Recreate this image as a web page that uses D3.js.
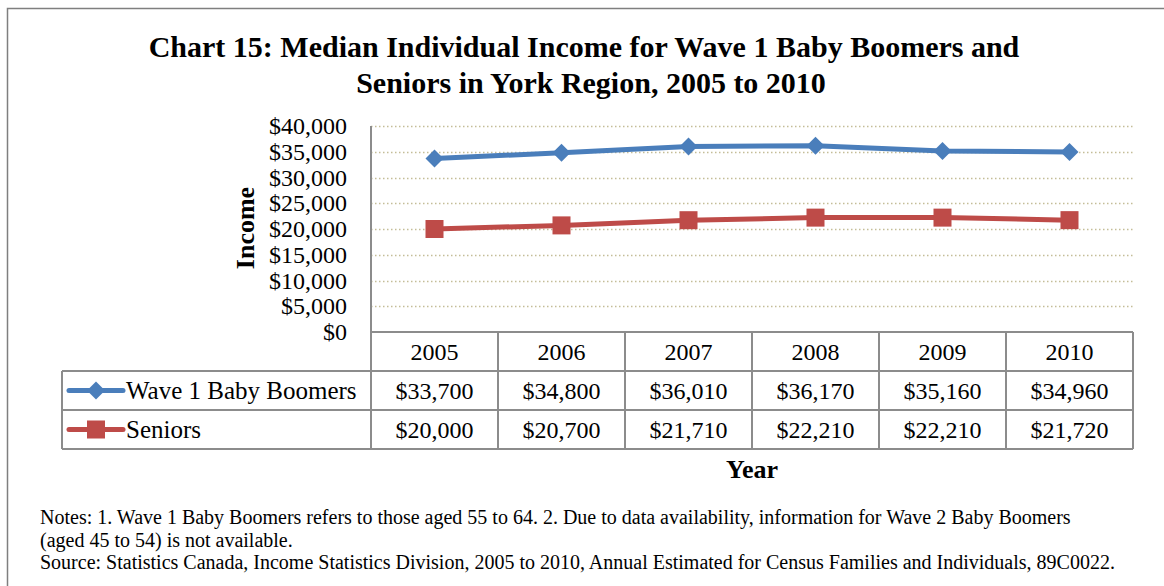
<!DOCTYPE html>
<html>
<head>
<meta charset="utf-8">
<script src="https://cdn.jsdelivr.net/npm/d3@7"></script>
<style>
    body { margin: 0; background: #fff; }
    svg { display: block; font-family: "Liberation Serif", "DejaVu Serif", serif; }
</style>
</head>
<body>
<div id="chart"></div>
<script>
//Datos del gráfico
const years = ['2005', '2006', '2007', '2008', '2009', '2010'];
const boomers = [33700, 34800, 36010, 36170, 35160, 34960];
const seniors = [20000, 20700, 21710, 22210, 22210, 21720];
const seriesNames = ['Wave 1 Baby Boomers', 'Seniors'];
const yTicks = [0, 5000, 10000, 15000, 20000, 25000, 30000, 35000, 40000];

const COLOR_BLUE = '#4A7EBB',
    COLOR_RED = '#BE4B48',
    COLOR_GRID = '#C4BD97',
    COLOR_BORDER = '#8C8C8C';

let width = 1164, height = 586;
let margin = {top: 126, right: 31, bottom: 254, left: 371};

let svg = d3.select('#chart')
    .append('svg')
    .attr('width', width)
    .attr('height', height);

//Marco exterior
svg.append('rect')
    .attr('x', 7.5).attr('y', 8.5)
    .attr('width', 1200).attr('height', 700)
    .attr('fill', 'none')
    .attr('stroke', '#7F7F7F')
    .attr('stroke-width', 1.5);

//Título
let title = svg.append('text')
    .attr('text-anchor', 'middle')
    .attr('font-weight', 700)
    .attr('font-size', '30px')
    .attr('fill', '#000');
title.append('tspan').attr('x', 584).attr('y', 57).text('Chart 15: Median Individual Income for Wave 1 Baby Boomers and');
title.append('tspan').attr('x', 591).attr('y', 93).text('Seniors in York Region, 2005 to 2010');

let x = d3.scaleBand()
    .domain(years)
    .range([margin.left, width - margin.right]);

let y = d3.scaleLinear()
    .domain([0, 40000])
    .range([height - margin.bottom, margin.top]);

//Rejilla
svg.append('g')
    .selectAll('line')
    .data(yTicks.filter(d => d > 0))
    .enter()
    .append('line')
    .attr('x1', margin.left)
    .attr('x2', width - margin.right)
    .attr('y1', d => Math.round(y(d)) + 0.5)
    .attr('y2', d => Math.round(y(d)) + 0.5)
    .attr('stroke', COLOR_GRID)
    .attr('stroke-width', 1.5)
    .attr('stroke-dasharray', '1.5,2.5');

//Eje Y
let yAxis = function(g) {
    g.call(d3.axisLeft(y).tickValues(yTicks).tickSize(0).tickPadding(24).tickFormat(d => '$' + d3.format(',')(d)));
    g.call(g => g.select('.domain').remove());
    g.selectAll('text')
        .attr('font-family', '"Liberation Serif", serif')
        .attr('font-size', '24px')
        .attr('fill', '#000');
};
svg.append('g')
    .attr('transform', 'translate(' + margin.left + ',0)')
    .call(yAxis);

svg.append('line')
    .attr('x1', margin.left).attr('x2', margin.left)
    .attr('y1', margin.top).attr('y2', y(0))
    .attr('stroke', COLOR_BORDER).attr('stroke-width', 2);

svg.append('text')
    .attr('transform', 'translate(254,' + (y(20000) - 1) + ') rotate(-90)')
    .attr('text-anchor', 'middle')
    .attr('font-weight', 700)
    .attr('font-size', '26px')
    .text('Income');

//Líneas y marcadores
let series = [
    {name: seriesNames[0], values: boomers, color: COLOR_BLUE, shape: 'diamond'},
    {name: seriesNames[1], values: seniors, color: COLOR_RED, shape: 'square'}
];

let line = d3.line()
    .x((d, i) => x(years[i]) + x.bandwidth() / 2)
    .y(d => y(d));

function marker(g, shape, color) {
    if (shape == 'diamond') {
        g.append('path').attr('d', 'M0,-9L9,0L0,9L-9,0Z').attr('fill', color);
    } else {
        g.append('rect').attr('x', -9).attr('y', -9).attr('width', 18).attr('height', 18).attr('fill', color);
    }
}

series.forEach(function(s) {
    svg.append('path')
        .datum(s.values)
        .attr('d', line)
        .attr('fill', 'none')
        .attr('stroke', s.color)
        .attr('stroke-width', 5)
        .attr('stroke-linejoin', 'round');

    s.values.forEach(function(v, i) {
        let g = svg.append('g')
            .attr('transform', 'translate(' + (x(years[i]) + x.bandwidth() / 2) + ',' + y(v) + ')');
        marker(g, s.shape, s.color);
    });
});

//Tabla de datos
let rowTop = [y(0), 371, 410, 449];
let legendLeft = 62;
let tab = svg.append('g')
    .attr('stroke', COLOR_BORDER)
    .attr('stroke-width', 2)
    .attr('fill', 'none');

//horizontales
tab.append('line').attr('x1', margin.left).attr('x2', width - margin.right).attr('y1', rowTop[0]).attr('y2', rowTop[0]);
[1, 2, 3].forEach(function(r) {
    tab.append('line').attr('x1', legendLeft).attr('x2', width - margin.right).attr('y1', rowTop[r]).attr('y2', rowTop[r]);
});
//verticales
tab.append('line').attr('x1', legendLeft).attr('x2', legendLeft).attr('y1', rowTop[1]).attr('y2', rowTop[3]);
years.forEach(function(yr) {
    tab.append('line').attr('x1', x(yr)).attr('x2', x(yr)).attr('y1', rowTop[0]).attr('y2', rowTop[3]);
});
tab.append('line').attr('x1', width - margin.right).attr('x2', width - margin.right).attr('y1', rowTop[0]).attr('y2', rowTop[3]);

let cellText = svg.append('g')
    .attr('font-size', '24px')
    .attr('text-anchor', 'middle')
    .attr('fill', '#000');

years.forEach(function(yr) {
    cellText.append('text')
        .attr('x', x(yr) + x.bandwidth() / 2)
        .attr('y', (rowTop[0] + rowTop[1]) / 2 + 8)
        .text(yr);
});

series.forEach(function(s, r) {
    let midY = (rowTop[r + 1] + rowTop[r + 2]) / 2;
    s.values.forEach(function(v, i) {
        cellText.append('text')
            .attr('x', x(years[i]) + x.bandwidth() / 2)
            .attr('y', midY + 8)
            .text('$' + d3.format(',')(v));
    });
    //Leyenda
    svg.append('line')
        .attr('x1', 69).attr('x2', 123)
        .attr('y1', midY).attr('y2', midY)
        .attr('stroke', s.color).attr('stroke-width', 5).attr('stroke-linecap', 'round');
    let g = svg.append('g').attr('transform', 'translate(96,' + midY + ')');
    marker(g, s.shape, s.color);
    svg.append('text')
        .attr('x', 126)
        .attr('y', midY + 8)
        .attr('font-size', '25px')
        .text(s.name);
});

svg.append('text')
    .attr('x', x('2008'))
    .attr('y', 478)
    .attr('text-anchor', 'middle')
    .attr('font-weight', 700)
    .attr('font-size', '26px')
    .text('Year');

//Notas
let notes = svg.append('text')
    .attr('font-size', '20px')
    .attr('fill', '#000');
notes.append('tspan').attr('x', 40).attr('y', 524).text('Notes: 1. Wave 1 Baby Boomers refers to those aged 55 to 64. 2. Due to data availability, information for Wave 2 Baby Boomers');
notes.append('tspan').attr('x', 40).attr('y', 547).text('(aged 45 to 54) is not available.');
notes.append('tspan').attr('x', 40).attr('y', 569).text('Source: Statistics Canada, Income Statistics Division, 2005 to 2010, Annual Estimated for Census Families and Individuals, 89C0022.');
</script>
</body>
</html>
